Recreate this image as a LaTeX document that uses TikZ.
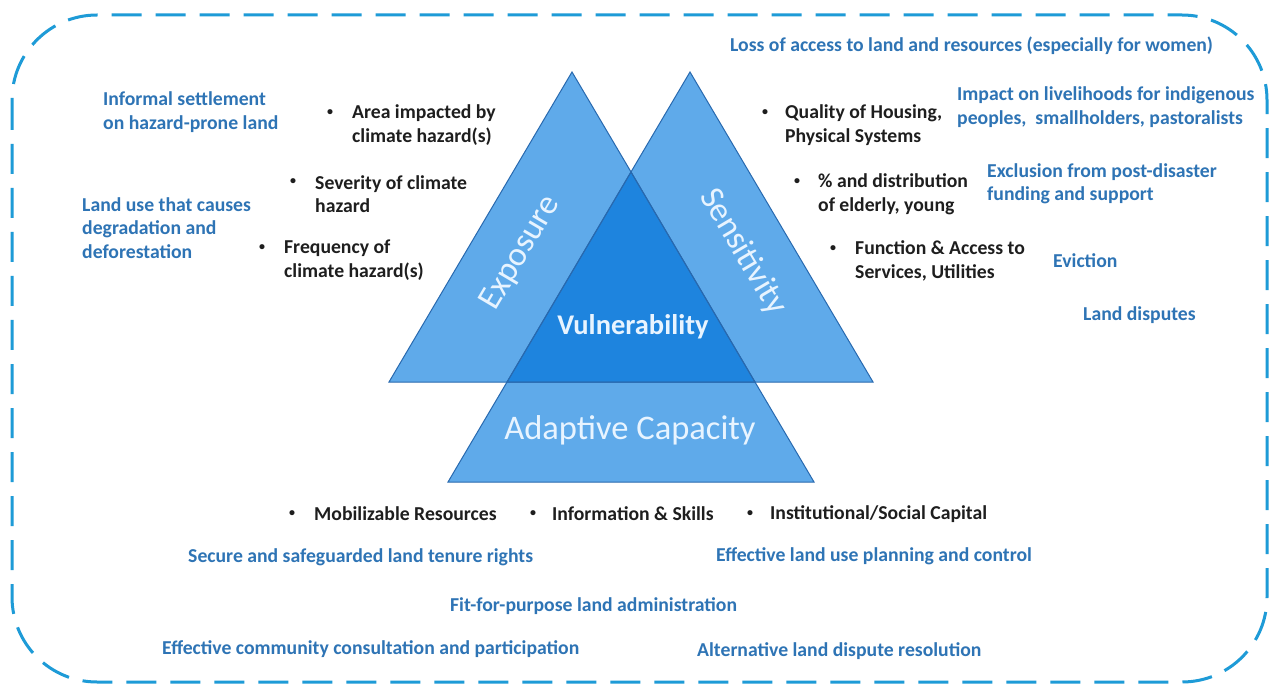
\documentclass[tikz,border=0pt]{standalone}
\usepackage{fontspec}
\setmainfont{Carlito}
\definecolor{borderblue}{RGB}{30,155,215}
\definecolor{trifill}{RGB}{95,170,234}
\definecolor{vulfill}{RGB}{30,132,222}
\definecolor{triline}{RGB}{40,105,175}
\definecolor{lighttxt}{RGB}{232,244,255}
\definecolor{txtblue}{RGB}{46,116,181}
\definecolor{txtdark}{RGB}{30,30,30}
\tikzset{
  frame/.style={draw=borderblue, line width=3pt, dash pattern=on 30pt off 14pt},
  tri/.style={fill=trifill},
  vul/.style={fill=vulfill},
  triedge/.style={draw=triline, line width=1pt, line join=miter},
  bluetxt/.style={text=txtblue, font=\bfseries\fontsize{19.7}{23.5}\selectfont, align=left, inner sep=0pt, anchor=west},
  darktxt/.style={text=txtdark, font=\bfseries\fontsize{19.7}{23.5}\selectfont, align=left, inner sep=0pt, anchor=west},
  bullet/.style={text=txtdark, font=\bfseries\fontsize{12}{14}\selectfont, inner sep=0pt},
  biglabel/.style={text=lighttxt, font=\fontsize{34}{40}\selectfont, inner sep=0pt},
}
\begin{document}
\begin{tikzpicture}[x=1pt,y=-1pt]
\useasboundingbox (0,0) rectangle (1271,684);
\fill[white] (0,0) rectangle (1271,684);
% frame
\draw[frame, rounded corners=85pt] (12,15) rectangle (1267,682);
% triangle corners
\coordinate (eA) at (572,72);
\coordinate (eB) at (389,382);
\coordinate (eC) at (755,382);
\coordinate (sA) at (690,72);
\coordinate (sB) at (507,382);
\coordinate (sC) at (873,382);
\coordinate (aA) at (631,172);
\coordinate (aB) at (448,482);
\coordinate (aC) at (814,482);
% fills
\fill[tri] (eA) -- (eB) -- (eC) -- cycle;
\fill[tri] (sA) -- (sB) -- (sC) -- cycle;
\fill[tri] (aA) -- (aB) -- (aC) -- cycle;
\fill[vul] (aA) -- (sB) -- (eC) -- cycle;
% outlines
\draw[triedge] (eA) -- (eB) -- (eC) -- cycle;
\draw[triedge] (sA) -- (sB) -- (sC) -- cycle;
\draw[triedge] (aA) -- (aB) -- (aC) -- cycle;
% triangle labels
\node[biglabel, rotate=59.4] (exposure) at (521,253) {Exposure};
\node[biglabel, rotate=-59.4] (sensitivity) at (743,252) {Sensitivity};
\node[biglabel, font=\bfseries\fontsize{28.5}{32}\selectfont] (vulnerability) at (633,327) {Vulnerability};
\node[biglabel, font=\fontsize{34.5}{40}\selectfont] (adaptive) at (630,430) {Adaptive Capacity};
% exposure factors
\node[bullet] (b1) at (330,113) {•};
\node[darktxt] (f1) at (352,125) {Area impacted by\\climate hazard(s)};
\node[bullet] (b2) at (293,182) {•};
\node[darktxt] (f2) at (315,194) {Severity of climate\\hazard};
\node[bullet] (b3) at (262,248) {•};
\node[darktxt] (f3) at (284,260) {Frequency of\\climate hazard(s)};
% sensitivity factors
\node[bullet] (b4) at (765,113) {•};
\node[darktxt] (f4) at (785,125) {Quality of Housing,\\Physical Systems};
\node[bullet] (b5) at (797,182) {•};
\node[darktxt] (f5) at (818,194) {\% and distribution\\of elderly, young};
\node[bullet] (b6) at (833,249) {•};
\node[darktxt] (f6) at (855,261) {Function \& Access to\\Services, Utilities};
% adaptive capacity factors
\node[bullet] (b7) at (292,514) {•};
\node[darktxt] (f7) at (314,514) {Mobilizable Resources};
\node[bullet] (b8) at (533,514) {•};
\node[darktxt] (f8) at (552,514) {Information \& Skills};
\node[bullet] (b9) at (750,514) {•};
\node[darktxt] (f9) at (770,514) {Institutional/Social Capital};
% land issues (blue)
\node[bluetxt] (l1) at (103,112) {Informal settlement\\on hazard-prone land};
\node[bluetxt] (l2) at (82,228) {Land use that causes\\degradation and\\deforestation};
\node[bluetxt] (l3) at (730,46) {Loss of access to land and resources (especially for women)};
\node[bluetxt] (l4) at (957,107) {Impact on livelihoods for indigenous\\peoples,\ \ smallholders, pastoralists};
\node[bluetxt] (l5) at (987,184) {Exclusion from post-disaster\\funding and support};
\node[bluetxt] (l6) at (1053,261) {Eviction};
\node[bluetxt] (l7) at (1083,315) {Land disputes};
% land responses
\node[bluetxt] (r1) at (188,557) {Secure and safeguarded land tenure rights};
\node[bluetxt] (r2) at (716,556) {Effective land use planning and control};
\node[bluetxt] (r3) at (450,606) {Fit-for-purpose land administration};
\node[bluetxt] (r4) at (162,649) {Effective community consultation and participation};
\node[bluetxt] (r5) at (697,651) {Alternative land dispute resolution};
\end{tikzpicture}
\end{document}
